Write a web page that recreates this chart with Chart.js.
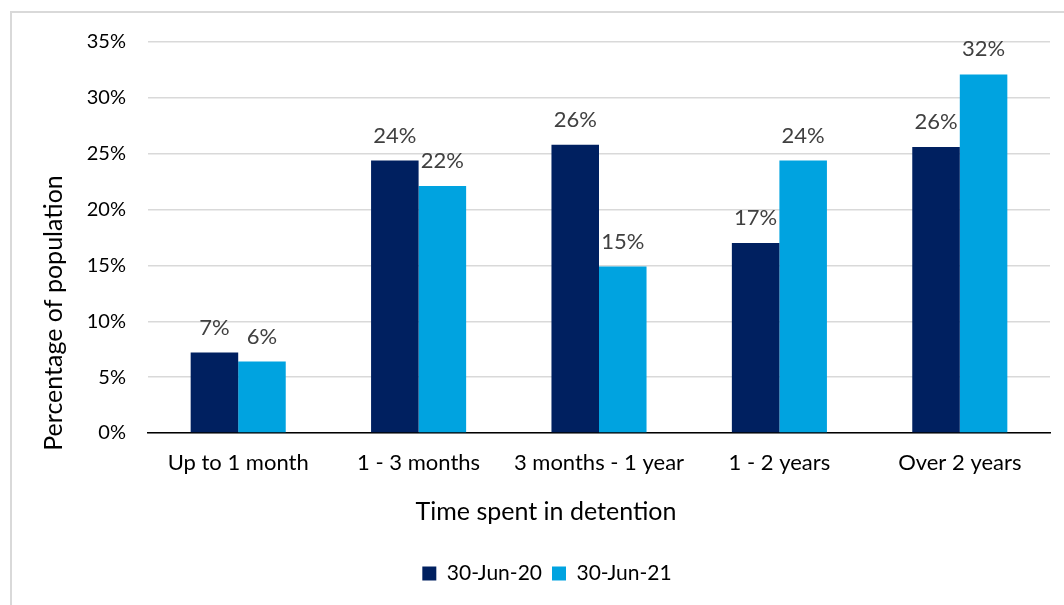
<!DOCTYPE html>
<html>
<head>
<meta charset="utf-8">
<script src="https://cdn.jsdelivr.net/npm/chart.js@4"></script>
<style>
  html, body { margin: 0; padding: 0; background: #ffffff; }
  #wrap { position: relative; width: 1064px; height: 605px; overflow: hidden; }
  #frame { position: absolute; left: 10px; top: 11px; width: 1200px; height: 800px;
           border-left: 2px solid #d9d9d9; border-top: 2px solid #d9d9d9; }
  #c { position: absolute; left: 0; top: 0; }
</style>
</head>
<body>
<div id="wrap">
  <div id="frame"></div>
  <canvas id="c" width="1064" height="605"></canvas>
</div>
<script>
const categories = ["Up to 1 month", "1 - 3 months", "3 months - 1 year", "1 - 2 years", "Over 2 years"];
const seriesNames = ["30-Jun-20", "30-Jun-21"];
const values2020 = [7.2, 24.4, 25.8, 17.0, 25.6];
const values2021 = [6.4, 22.1, 14.9, 24.4, 32.1];
const yTicks = [0, 5, 10, 15, 20, 25, 30, 35];
const xTitle = "Time spent in detention";
const yTitle = "Percentage of population";

const FONT = "Lato, 'Open Sans', sans-serif";

const dataLabels = {
  id: 'dataLabels',
  afterDatasetsDraw(chart) {
    const ctx = chart.ctx;
    ctx.save();
    ctx.font = "22px " + FONT;
    ctx.fillStyle = "#404040";
    ctx.textAlign = "center";
    ctx.textBaseline = "middle";
    chart.data.datasets.forEach((ds, i) => {
      const meta = chart.getDatasetMeta(i);
      meta.data.forEach((el, j) => {
        ctx.fillText(Math.round(ds.data[j]) + "%", el.x, el.y - 25);
      });
    });
    ctx.restore();
  }
};

const axisTitles = {
  id: 'axisTitles',
  afterDraw(chart) {
    const ctx = chart.ctx;
    ctx.save();
    ctx.font = "25px " + FONT;
    ctx.fillStyle = "#000000";
    ctx.textAlign = "center";
    ctx.textBaseline = "middle";
    ctx.fillText(xTitle, 546, 512);
    ctx.translate(54, 313);
    ctx.rotate(-Math.PI / 2);
    ctx.fillText(yTitle, 0, 0);
    ctx.restore();
  }
};

new Chart(document.getElementById('c'), {
  type: 'bar',
  data: {
    labels: categories,
    datasets: [
      { label: seriesNames[0], data: values2020, backgroundColor: "#002060",
        categoryPercentage: 0.527, barPercentage: 1.0 },
      { label: seriesNames[1], data: values2021, backgroundColor: "#00A3E0",
        categoryPercentage: 0.527, barPercentage: 1.0 }
    ]
  },
  options: {
    responsive: false,
    animation: false,
    devicePixelRatio: 1,
    layout: { padding: { top: 42, left: 44, right: 14, bottom: 11 } },
    plugins: {
      legend: {
        position: 'bottom',
        labels: {
          boxWidth: 14, boxHeight: 14, padding: 10,
          color: "#000000",
          font: { family: FONT, size: 21 }
        }
      },
      tooltip: { enabled: false }
    },
    scales: {
      x: {
        grid: { display: false, drawTicks: false },
        border: { display: true, color: "#000000", width: 1.5 },
        ticks: { color: "#000000", padding: 17, font: { family: FONT, size: 22 } },
        afterFit(scale) { scale.height = 120; }
      },
      y: {
        min: 0, max: 35,
        afterBuildTicks(scale) { scale.ticks = yTicks.map(v => ({ value: v })); },
        grid: { color: "#d9d9d9", lineWidth: 1.5, drawTicks: false },
        border: { display: false },
        ticks: { color: "#000000", padding: 22, font: { family: FONT, size: 20 },
                 callback: v => v + "%" },
        afterFit(scale) { scale.width = 104; }
      }
    }
  },
  plugins: [dataLabels, axisTitles]
});
</script>
</body>
</html>
